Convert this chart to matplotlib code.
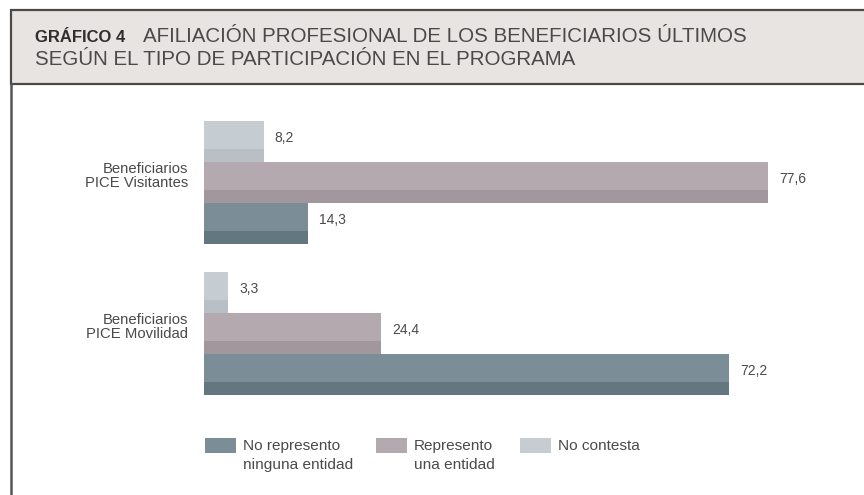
import matplotlib.pyplot as plt
from matplotlib.patches import Rectangle
from matplotlib.lines import Line2D

# data
groups = ["Beneficiarios\nPICE Visitantes", "Beneficiarios\nPICE Movilidad"]
series = ["No contesta", "Represento\nuna entidad", "No represento\nninguna entidad"]
values = {
    "No contesta": [8.2, 3.3],
    "Represento\nuna entidad": [77.6, 24.4],
    "No represento\nninguna entidad": [14.3, 72.2],
}
light = ["#c5ccd2", "#b5a9b0", "#7b8d96"]
dark = ["#b8c0c6", "#a3979e", "#637781"]

W, H = 864, 495
fig = plt.figure(figsize=(W / 100, H / 100), dpi=100)
fig.patch.set_facecolor("white")
plt.rcParams["font.family"] = ["Liberation Sans", "DejaVu Sans"]
txt = "#4a4a4a"

def fx(px):
    return px / W

def fy(py):
    return 1 - py / H

# frame + title box
fig.add_artist(Line2D([fx(11), fx(11)], [fy(84), 0], color="#555555", lw=1.8,
                      transform=fig.transFigure))
fig.add_artist(Rectangle((fx(11), fy(84)), fx(W + 20) - fx(11), fy(10) - fy(84),
                         transform=fig.transFigure, facecolor="#e8e4e2",
                         edgecolor="#4a4a4a", lw=1.6))
fig.text(fx(35), fy(42), "GRÁFICO 4", fontsize=12, fontweight="bold",
         color="#2e2e2e", va="baseline")
fig.text(fx(143), fy(42), "AFILIACIÓN PROFESIONAL DE LOS BENEFICIARIOS ÚLTIMOS",
         fontsize=14.8, color=txt, va="baseline")
fig.text(fx(35), fy(65), "SEGÚN EL TIPO DE PARTICIPACIÓN EN EL PROGRAMA",
         fontsize=14.8, color=txt, va="baseline")

# bars
px_per_unit = (768 - 204) / 77.6
xmax = 90
gap = 151.0
top_px, bot_px = 100, 420
ax = fig.add_axes([fx(204), fy(bot_px), xmax * px_per_unit / W, (bot_px - top_px) / H])
ax.set_xlim(0, xmax)
ax.set_ylim((bot_px - 182) / gap, (top_px - 182) / gap)
ax.axis("off")

h = 41 / gap
for j, name in enumerate(series):
    off = (j - 1) * h
    for i, v in enumerate(values[name]):
        y = i + off
        ax.barh(y, v, height=h, color=dark[j], linewidth=0)
        ax.barh(y - 0.15 * h, v, height=0.7 * h, color=light[j], linewidth=0)
        ax.text(v + 11 / px_per_unit, y - 0.07 * h, f"{v:.1f}".replace(".", ","),
                fontsize=10, color=txt, va="center")

for i, g in enumerate(groups):
    ax.text(-16 / px_per_unit, i - 6 / gap, g, fontsize=10.7, color=txt, ha="right",
            va="center", linespacing=1.0, clip_on=False)

# legend
leg_x = [205, 376, 520]
order = [2, 1, 0]
for k, j in enumerate(order):
    fig.add_artist(Rectangle((fx(leg_x[k]), fy(453)), fx(31), fy(438) - fy(453),
                             transform=fig.transFigure, facecolor=light[j], lw=0))
    fig.text(fx(leg_x[k] + 38), fy(439), series[j], fontsize=11.1, color=txt,
             va="top", linespacing=1.42)

fig.savefig("out.png", dpi=100)
